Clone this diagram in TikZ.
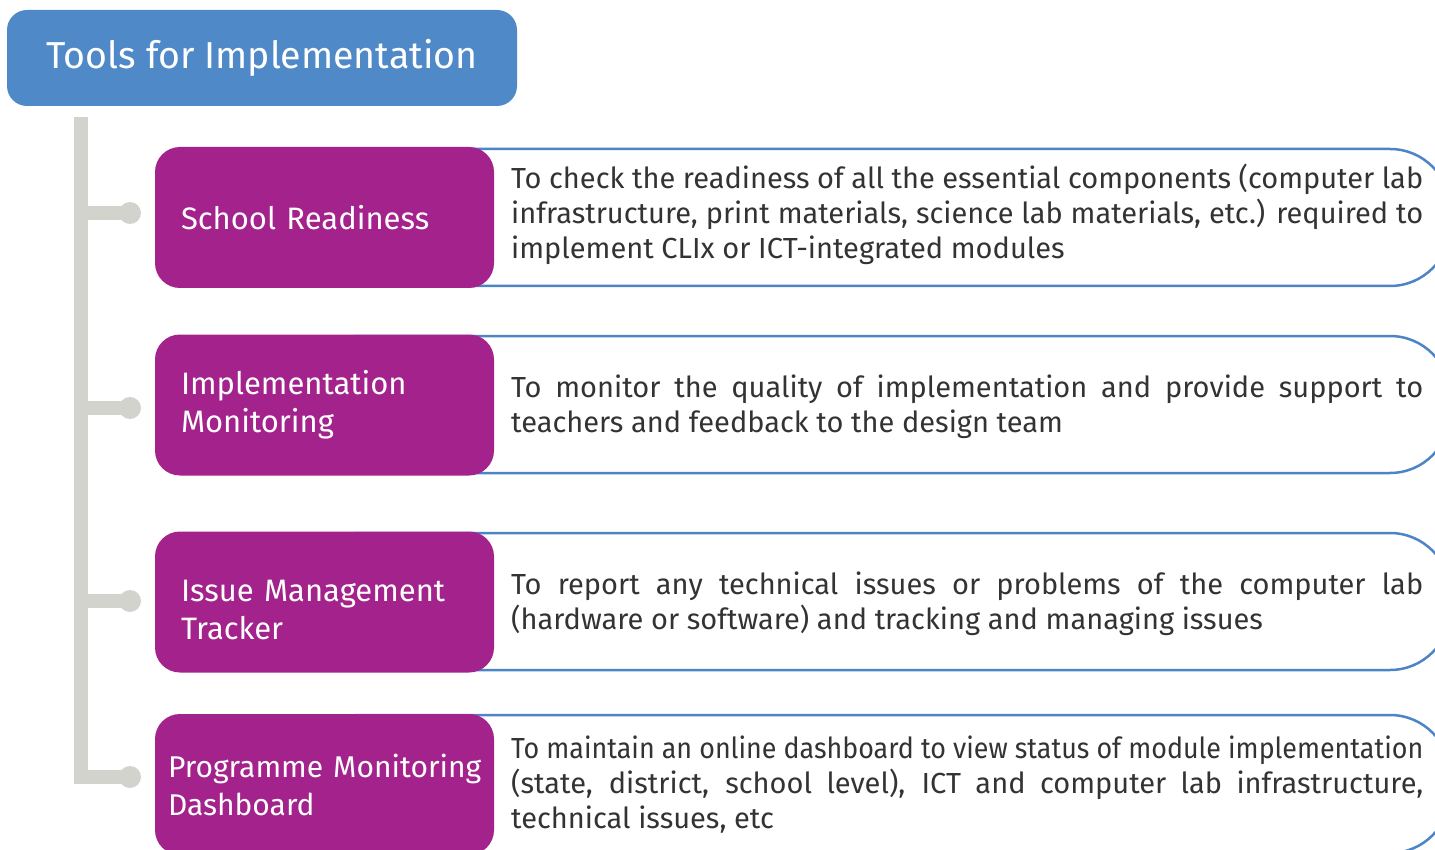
\documentclass[tikz,border=0pt]{standalone}
\usepackage{fontspec}
\setmainfont{Fira Sans}
\usetikzlibrary{positioning}

\definecolor{titleblue}{HTML}{5089C8}
\definecolor{toolpurple}{HTML}{A3228B}
\definecolor{frameblue}{HTML}{4D84C5}
\definecolor{spinegray}{HTML}{D3D3CE}
\definecolor{desccolor}{HTML}{333333}

\tikzset{
  titlebox/.style={fill=titleblue, text=white, rounded corners=20pt,
    minimum width=510pt, minimum height=96pt, inner sep=0pt,
    font=\fontsize{37.5}{44}\selectfont},
  toolbox/.style={fill=toolpurple, text=white, rounded corners=25pt,
    minimum height=141pt, text width=287pt, inner xsep=26pt, inner ysep=0pt,
    align=left, font=\fontsize{31}{38}\selectfont},
  descframe/.style={draw=frameblue, line width=2.5pt, rounded corners=60pt, fill=white},
  desctext/.style={anchor=west, text=desccolor, align=left, inner sep=0pt,
    font=\fontsize{29}{35}\selectfont},
  spine/.style={draw=spinegray, line width=14pt},
  branch/.style={draw=spinegray, line width=14pt},
  dot/.style={circle, fill=spinegray, minimum size=22pt, inner sep=0pt}
}
\newcommand{\jline}[1]{\makebox[912pt][s]{#1}}
\newcommand{\squeezeline}[1]{\resizebox{912pt}{\height}{#1}}

\begin{document}
\begin{tikzpicture}[x=1pt,y=-1pt]
\useasboundingbox (0,0) rectangle (1435,850);
\clip (0,0) rectangle (1435,850);

% title
\node[titlebox] (title) at (262,58) {Tools for Implementation};

% spine and branches
\coordinate (top) at (81,117);
\coordinate (bottom) at (81,784);
\draw[spine] (top) -- (bottom);
\node[dot] (dot1) at (130,213) {};
\node[dot] (dot2) at (130,408) {};
\node[dot] (dot3) at (130,601) {};
\node[dot] (dot4) at (130,777) {};
\coordinate (b1) at (81,213);
\coordinate (b2) at (81,408);
\coordinate (b3) at (81,601);
\coordinate (b4) at (74,777);
\foreach \i in {1,...,4}
  \draw[branch] (b\i) -- (dot\i.center);

% description frames
\draw[descframe] (300,149) rectangle (1450,286);
\draw[descframe] (300,336) rectangle (1450,473);
\draw[descframe] (300,533) rectangle (1450,670);
\draw[descframe] (300,715) rectangle (1450,853);

% tools
\node[toolbox] (tool1) at (324.5,217.5) {School Readiness};
\node[toolbox] (tool2) at (324.5,405) {Implementation\\Monitoring};
\node[toolbox] (tool3) at (324.5,602) {\rule{0pt}{38pt}Issue Management\\Tracker};
\node[toolbox, text width=313pt, inner xsep=13pt,
  font=\fontsize{30}{38}\selectfont] (tool4) at (324.5,784.5) {\mbox{Programme Monitoring}\\Dashboard};

% descriptions
\node[desctext] (desc1) at (511,214) {%
\jline{To check the readiness of all the essential components (computer lab}\\
\jline{infrastructure, print materials, science lab materials, etc.) required to}\\
implement CLIx or ICT-integrated modules};
\node[desctext] (desc2) at (511,406.5) {%
\jline{To monitor the quality of implementation and provide support to}\\
teachers and feedback to the design team};
\node[desctext] (desc3) at (511,603.5) {%
\jline{To report any technical issues or problems of the computer lab}\\
(hardware or software) and tracking and managing issues};
\node[desctext] (desc4) at (511,785) {%
\squeezeline{To maintain an online dashboard to view status of module implementation}\\
\jline{(state, district, school level), ICT and computer lab infrastructure,}\\
technical issues, etc};
\end{tikzpicture}
\end{document}
